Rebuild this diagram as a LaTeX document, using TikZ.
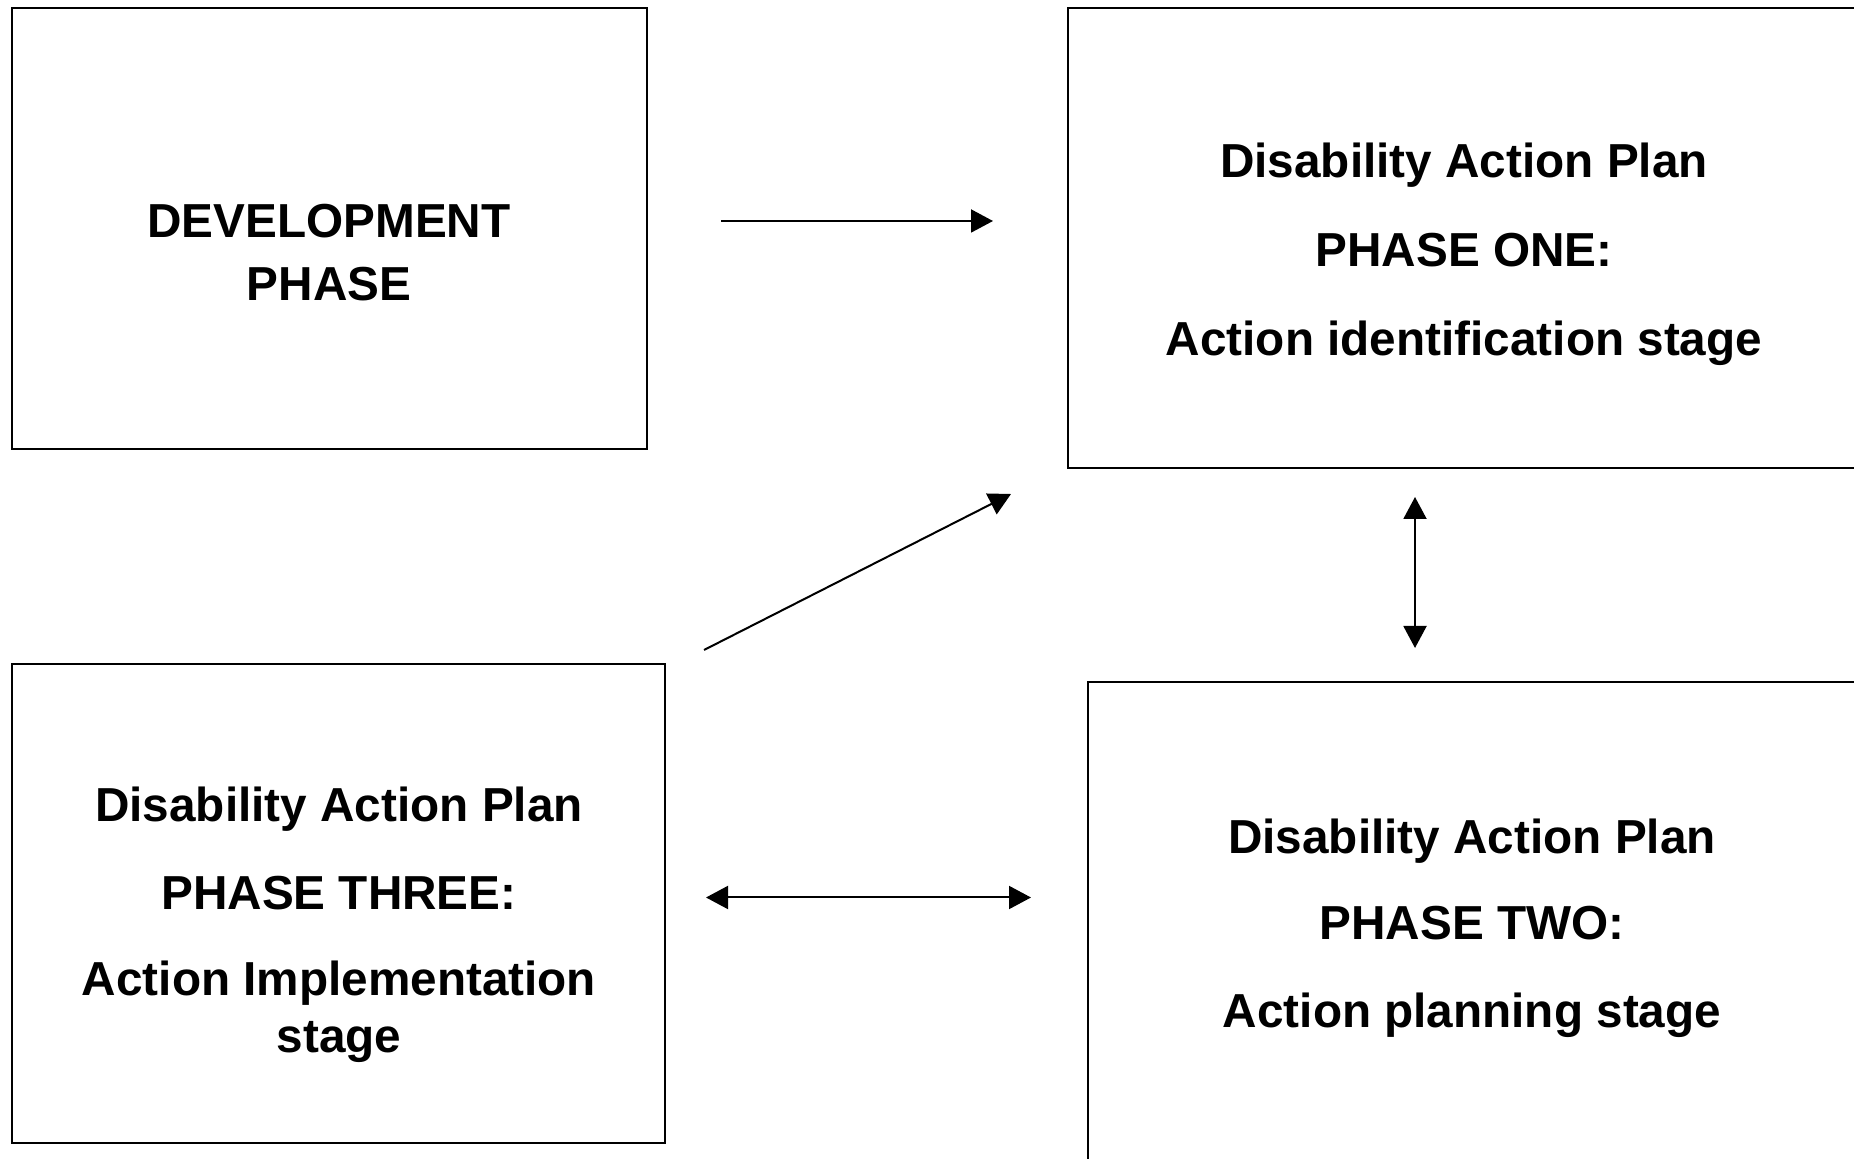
\documentclass[tikz,border=0pt]{standalone}
\usepackage{fontspec}
\setmainfont{Liberation Sans}
\usepackage{tikz}
\usetikzlibrary{arrows.meta,positioning}

\tikzset{
  phasebox/.style={draw, line width=0.75pt, inner sep=0pt},
  phasetext/.style={align=center, inner sep=0pt, font=\fontsize{23.85}{28.5}\selectfont\bfseries},
  flow/.style={line width=1pt, -{Triangle[length=11pt,width=11.5pt]}},
  twoway/.style={line width=1pt, {Triangle[length=11pt,width=11.5pt]}-{Triangle[length=11pt,width=11.5pt]}}
}

\begin{document}
\begin{tikzpicture}[x=0.5pt,y=-0.5pt]
\useasboundingbox (0,0) rectangle (1854,1159);

% Phase boxes
\node[phasebox, minimum width=317.5pt, minimum height=220.5pt] (dev) at (329.5,228.5) {};
\node[phasebox, minimum width=396pt, minimum height=230pt] (one) at (1464,238) {};
\node[phasebox, minimum width=326.5pt, minimum height=239.5pt] (three) at (338.5,903.5) {};
\node[phasebox, minimum width=385pt, minimum height=244pt] (two) at (1473,926) {};

% Box texts
\node[phasetext] (dev-t) at (329,252.5) {DEVELOPMENT\\[3pt]PHASE};
\node[phasetext] (one-t) at (1464,254) {Disability Action Plan\\[15.9pt]PHASE ONE:\\[15.9pt]Action identification stage};
\node[phasetext] (three-t) at (339,925) {Disability Action Plan\\[15.5pt]PHASE THREE:\\[14.5pt]Action Implementation\\stage};
\node[phasetext] (two-t) at (1472,928.5) {Disability Action Plan\\[14.5pt]PHASE TWO:\\[15.5pt]Action planning stage};

% Arrow ends
\coordinate (a1s) at (721,221);
\coordinate (a1e) at (993,221);
\coordinate (a2s) at (704,650);
\coordinate (a2e) at (1011,494);
\coordinate (a3s) at (1415,497);
\coordinate (a3e) at (1415,648);
\coordinate (a4s) at (706,897.5);
\coordinate (a4e) at (1031,897.5);

% Connectors
\draw[flow] (a1s) -- (a1e);
\draw[flow] (a2s) -- (a2e);
\draw[twoway] (a3s) -- (a3e);
\draw[twoway] (a4s) -- (a4e);
\end{tikzpicture}
\end{document}
